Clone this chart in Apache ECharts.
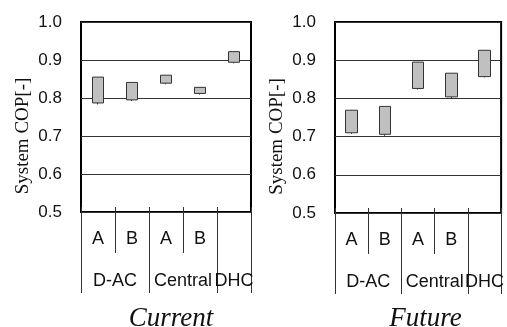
<!DOCTYPE html>
<html>
<head>
<meta charset="utf-8">
<script src="https://cdn.jsdelivr.net/npm/echarts@6/dist/echarts.min.js"></script>
<style>
  html, body { margin: 0; padding: 0; background: #fff; }
  #chart { width: 507px; height: 327px; }
</style>
</head>
<body>
<div id="chart"></div>
<script>
// sub categories (first label row) and groups (second label row)
const subLabels = ["A", "B", "A", "B", ""];
const groupLabels = ["D-AC", "Central", "DHC"];
const groupCenters = [1, 3, 4.5];
const groupBounds = [0, 2, 4, 5];
const yTicks = [0.5, 0.6, 0.7, 0.8, 0.9, 1.0];

// range of system COP
const currentTop = [0.855, 0.841, 0.860, 0.828, 0.922];
const currentBottom = [0.787, 0.795, 0.839, 0.812, 0.894];
const currentMin = [0.783, 0.792, 0.836, 0.809, 0.891];

const futureTop = [0.769, 0.779, 0.895, 0.866, 0.926];
const futureBottom = [0.710, 0.706, 0.826, 0.804, 0.857];
const futureMin = [0.707, 0.702, 0.823, 0.801, 0.855];

const panelTitles = ["Current", "Future"];

const sans = "Liberation Sans";
const serif = "Liberation Serif";
const lineColor = "#333";

const grids = [
    { left: 81, top: 22, width: 170, height: 190 },
    { left: 335, top: 22, width: 171, height: 191 },
];

function boxData(bottom, top, min) {
    // candlestick: [open, close, lowest, highest]
    return bottom.map((b, i) => [b, top[i], min[i], top[i]]);
}

const xAxis = [];
const yAxis = [];
const series = [];
const panels = [
    { bottom: currentBottom, top: currentTop, min: currentMin },
    { bottom: futureBottom, top: futureTop, min: futureMin },
];

panels.forEach((p, gi) => {
    // first row: A / B labels with separators
    xAxis.push({
        type: "category",
        gridIndex: gi,
        data: subLabels,
        position: "bottom",
        offset: 0,
        axisLine: { show: false },
        axisTick: {
            show: true,
            interval: 0,
            length: 41,
            lineStyle: { color: lineColor, width: 1 },
        },
        axisLabel: {
            interval: 0,
            margin: 18,
            color: "#111",
            fontFamily: sans,
            fontSize: 18,
        },
        splitLine: { show: false },
    });
    // small ticks pointing into the plot
    xAxis.push({
        type: "category",
        gridIndex: gi,
        data: subLabels,
        position: "bottom",
        offset: 0,
        axisLine: { show: false },
        axisTick: {
            show: true,
            inside: true,
            interval: 0,
            length: 5,
            lineStyle: { color: lineColor, width: 1 },
        },
        axisLabel: { show: false },
        splitLine: { show: false },
    });
    // second row: group labels
    xAxis.push({
        type: "value",
        gridIndex: gi,
        min: 0,
        max: 5,
        position: "bottom",
        offset: 0,
        axisLine: { show: false },
        axisTick: {
            show: true,
            customValues: groupBounds,
            length: 81,
            lineStyle: { color: lineColor, width: 1 },
        },
        axisLabel: {
            customValues: groupCenters,
            margin: 60,
            color: "#111",
            fontFamily: sans,
            fontSize: 18,
            formatter: (v) => {
                const k = groupCenters.indexOf(v);
                return k >= 0 ? groupLabels[k] : "";
            },
        },
        splitLine: { show: false },
    });

    yAxis.push({
        type: "value",
        gridIndex: gi,
        min: yTicks[0],
        max: yTicks[yTicks.length - 1],
        interval: 0.1,
        name: "System COP[-]",
        nameLocation: "middle",
        nameGap: 48,
        nameTextStyle: {
            fontFamily: serif,
            fontSize: 19,
            color: "#111",
            padding: [0, 38, 0, 0],
        },
        axisLine: { show: false },
        axisTick: { show: false },
        axisLabel: {
            margin: 19,
            color: "#111",
            fontFamily: sans,
            fontSize: 17,
            formatter: (v) => v.toFixed(1),
        },
        splitLine: { show: true, lineStyle: { color: lineColor, width: 1 } },
    });

    series.push({
        type: "candlestick",
        xAxisIndex: gi * 3,
        yAxisIndex: gi,
        barWidth: 12,
        data: boxData(p.bottom, p.top, p.min),
        itemStyle: {
            color: "#c0c0c0",
            color0: "#c0c0c0",
            borderColor: lineColor,
            borderColor0: lineColor,
            borderWidth: 1,
        },
        silent: true,
    });
});

const chart = echarts.init(document.getElementById("chart"));
chart.setOption({
    animation: false,
    backgroundColor: "#fff",
    title: panelTitles.map((t, i) => ({
        text: t,
        left: grids[i].left + grids[i].width / 2,
        top: 300,
        textAlign: "center",
        textStyle: {
            fontFamily: serif,
            fontStyle: "italic",
            fontWeight: "normal",
            fontSize: 27,
            color: "#111",
        },
    })),
    grid: grids.map((g) => ({
        ...g,
        show: true,
        borderColor: "#000",
        borderWidth: 2,
        backgroundColor: "transparent",
    })),
    xAxis,
    yAxis,
    series,
});
</script>
</body>
</html>
